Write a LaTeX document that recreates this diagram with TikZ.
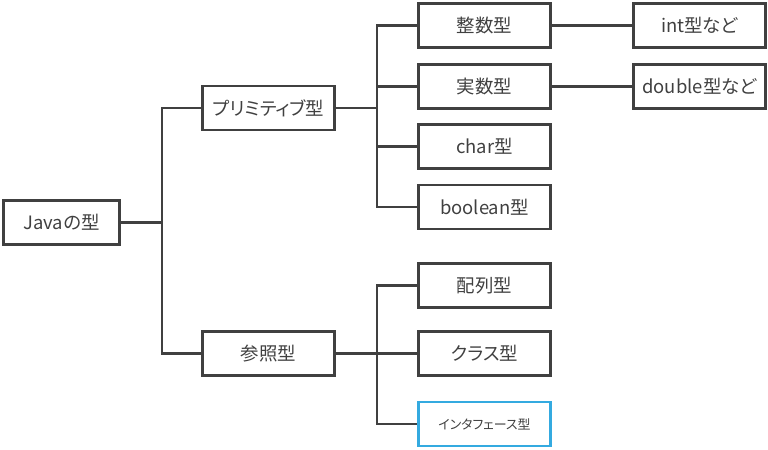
\documentclass[tikz,border=0pt]{standalone}
\usepackage{fontspec}
\setmainfont[RawFeature=+palt]{Noto Sans CJK JP}
\definecolor{linegray}{RGB}{64,64,64}
\definecolor{ifblue}{RGB}{52,170,224}
\tikzset{
  typebox/.style={draw=linegray,line width=2.5bp,minimum width=132bp,minimum height=44bp,inner sep=0pt,text=linegray,font=\fontsize{18.5}{22}\selectfont},
  link/.style={draw=linegray,line width=2.5bp},
}

\begin{document}
\begin{tikzpicture}

\useasboundingbox (0bp,0bp) rectangle (768bp,-450bp);

\node (java) at (61.5bp,-222.5bp)[typebox,minimum width=116bp] {Javaの型};
\node (prim) at (268.5bp,-108bp)[typebox] {プリミティブ型};
\node (ref) at (268.5bp,-353.5bp)[typebox] {参照型};
\node (seisu) at (484.5bp,-25.5bp)[typebox] {整数型};
\node (jissu) at (484.5bp,-86.5bp)[typebox] {実数型};
\node (char) at (484.5bp,-146.5bp)[typebox] {char型};
\node (bool) at (484.5bp,-207bp)[typebox] {boolean型};
\node (hairetsu) at (484.5bp,-285.5bp)[typebox] {配列型};
\node (class) at (484.5bp,-353.5bp)[typebox] {クラス型};
\node (iface) at (484.5bp,-424bp)[typebox,draw=ifblue,font=\fontsize{13}{15}\selectfont] {インタフェース型};
\node (int) at (699.5bp,-25.5bp)[typebox] {int型など};
\node (double) at (699.5bp,-86.5bp)[typebox] {double型など};

\coordinate (trunk) at (162bp,-222.5bp);
\coordinate (pjoin) at (377bp,-108bp);
\coordinate (rjoin) at (377bp,-353.5bp);

\draw [link] (java) -- (trunk);
\draw [link] (trunk) |- (prim);
\draw [link] (trunk) |- (ref);
\draw [link] (prim) -- (pjoin);
\draw [link] (pjoin) |- (seisu);
\draw [link] (pjoin) |- (jissu);
\draw [link] (pjoin) |- (char);
\draw [link] (pjoin) |- (bool);
\draw [link] (ref) -- (rjoin);
\draw [link] (rjoin) |- (hairetsu);
\draw [link] (rjoin) -- (class);
\draw [link] (rjoin) |- (iface);
\draw [link] (seisu) -- (int);
\draw [link] (jissu) -- (double);
\end{tikzpicture}
\end{document}
